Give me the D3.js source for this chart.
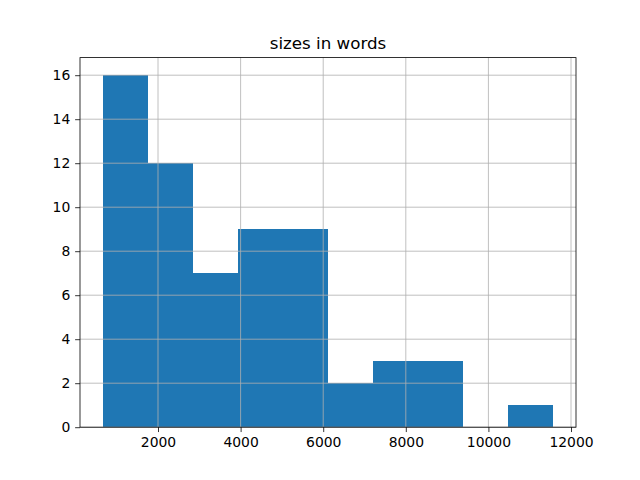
<!DOCTYPE html>
<html><head><meta charset="utf-8">
<script src="https://cdn.jsdelivr.net/npm/d3@7"></script>
<style>body{margin:0;background:#fff}svg{display:block}text{font-family:"DejaVu Sans",sans-serif}</style>
</head><body>
<svg id="c" width="640" height="480"></svg>
<script>
const binEdges = [657, 1749, 2841, 3932, 5024, 6116, 7208, 8300, 9391, 10483, 11575];
const counts = [16, 12, 7, 9, 9, 2, 3, 3, 0, 1];
const xTicks = [2000, 4000, 6000, 8000, 10000, 12000];
const yTicks = [0, 2, 4, 6, 8, 10, 12, 14, 16];
const title = "sizes in words";

const L = 80, R = 576, T = 57.6, B = 427.2;
const svg = d3.select("#c");
const x0 = binEdges[0], x1 = binEdges[binEdges.length - 1], w = x1 - x0;
const x = d3.scaleLinear().domain([x0 - 0.05 * w, x1 + 0.05 * w]).range([L, R]);
const ymax = d3.max(counts) * 1.05;
const y = d3.scaleLinear().domain([0, ymax]).range([B, T]);

const bins = counts.map((c, i) => ({x0: binEdges[i], x1: binEdges[i + 1], c}));
svg.append("g").attr("shape-rendering", "crispEdges").selectAll("rect").data(bins).join("rect")
  .attr("x", d => Math.round(x(d.x0))).attr("width", d => Math.round(x(d.x1)) - Math.round(x(d.x0)))
  .attr("y", d => Math.round(y(d.c))).attr("height", d => Math.round(B) - Math.round(y(d.c)))
  .attr("fill", "#1f77b4");

// grid
const g = svg.append("g").attr("stroke", "#b0b0b0").attr("stroke-width", 0.8);
xTicks.forEach(t => g.append("line").attr("x1", x(t)).attr("x2", x(t)).attr("y1", T).attr("y2", B));
yTicks.forEach(t => g.append("line").attr("y1", y(t)).attr("y2", y(t)).attr("x1", L).attr("x2", R));

// axes
const xa = svg.append("g").attr("transform", `translate(0,${B})`)
  .call(d3.axisBottom(x).tickValues(xTicks).tickFormat(d3.format("d")).tickSizeOuter(0).tickSize(4.86).tickPadding(4.86));
const ya = svg.append("g").attr("transform", `translate(${L},0)`)
  .call(d3.axisLeft(y).tickValues(yTicks).tickFormat(d3.format("d")).tickSizeOuter(0).tickSize(4.86).tickPadding(4.86));
[xa, ya].forEach(a => {
  a.select(".domain").remove();
  a.selectAll("line").attr("stroke", "#000").attr("stroke-width", 0.8);
  a.selectAll("text").attr("font-size", "13.9px").attr("fill", "#000").attr("font-family", "DejaVu Sans");
});

// spines
svg.append("rect").attr("x", L).attr("y", T).attr("width", R - L).attr("height", B - T)
  .attr("fill", "none").attr("stroke", "#000").attr("stroke-width", 0.8);

svg.append("text").attr("x", (L + R) / 2).attr("y", T - 8.5).attr("text-anchor", "middle")
  .attr("font-size", "16.7px").attr("fill", "#000").text(title);
</script>
</body></html>
